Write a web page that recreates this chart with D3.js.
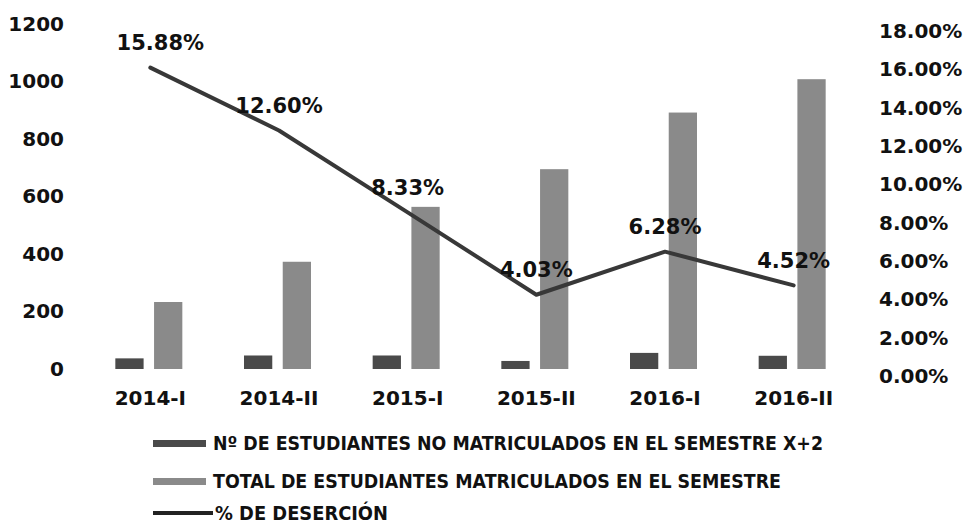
<!DOCTYPE html>
<html>
<head>
<meta charset="utf-8">
<script src="https://cdn.jsdelivr.net/npm/d3@7"></script>
<style>
  body { margin: 0; background: #fff; }
  text { font-family: "DejaVu Sans", Verdana, sans-serif; }
</style>
</head>
<body>
<svg id="chart" width="969" height="524"></svg>
<script>
// semesters
var categories = ["2014-I", "2014-II", "2015-I", "2015-II", "2016-I", "2016-II"];
// Nº de estudiantes no matriculados en el semestre X+2
var noMatriculados = [37, 47, 47, 28, 56, 46];
// total de estudiantes matriculados en el semestre
var totalMatriculados = [233, 373, 564, 695, 892, 1008];
// % de deserción
var desercion = [0.1588, 0.1260, 0.0833, 0.0403, 0.0628, 0.0452];

var leftTicks = [0, 200, 400, 600, 800, 1000, 1200];
var rightTicks = [0, 0.02, 0.04, 0.06, 0.08, 0.10, 0.12, 0.14, 0.16, 0.18];

var legendLabels = [
  "Nº DE ESTUDIANTES NO MATRICULADOS EN EL SEMESTRE X+2",
  "TOTAL DE ESTUDIANTES MATRICULADOS EN EL SEMESTRE",
  "% DE DESERCIÓN"
];

var darkColor = "#4a4a4a";
var lightColor = "#8a8a8a";
var lineColor = "#383838";

var svg = d3.select("#chart");

var x = d3.scaleBand()
  .domain(categories)
  .range([86, 858]);

var xInner = d3.scaleBand()
  .domain(["n", "t"])
  .range([-35, 32])
  .paddingInner(0.27);

var yLeft = d3.scaleLinear()
  .domain([0, 1200])
  .range([369, 24]);

var yRight = d3.scaleLinear()
  .domain([0, 0.18])
  .range([372, 27]);

var center = function(c) { return x(c) + x.bandwidth() / 2; };

function styleTicks(g) {
  g.select(".domain").remove();
  g.selectAll("text")
    .attr("font-family", "DejaVu Sans")
    .attr("font-weight", "bold")
    .attr("font-size", 20)
    .attr("fill", "#111");
}

// left axis (labels only)
svg.append("g")
  .attr("transform", "translate(64,0)")
  .call(d3.axisLeft(yLeft).tickValues(leftTicks).tickSize(0).tickPadding(0).tickFormat(d3.format("d")))
  .call(styleTicks);

// right axis (labels only)
svg.append("g")
  .attr("transform", "translate(879,4)")
  .call(d3.axisRight(yRight).tickValues(rightTicks).tickSize(0).tickPadding(0).tickFormat(d3.format(".2%")))
  .call(styleTicks);

// category labels
svg.append("g")
  .attr("transform", "translate(0,391)")
  .call(d3.axisBottom(x).tickSize(0).tickPadding(0))
  .call(styleTicks);

// bars
var groups = svg.append("g").selectAll("g")
  .data(categories)
  .enter().append("g")
    .attr("transform", function(c) { return "translate(" + center(c) + ",0)"; });

groups.append("rect")
  .attr("class", "bar-no")
  .attr("x", xInner("n"))
  .attr("width", xInner.bandwidth())
  .attr("y", function(c, i) { return yLeft(noMatriculados[i]); })
  .attr("height", function(c, i) { return yLeft(0) - yLeft(noMatriculados[i]); })
  .attr("fill", darkColor);

groups.append("rect")
  .attr("class", "bar-total")
  .attr("x", xInner("t"))
  .attr("width", xInner.bandwidth())
  .attr("y", function(c, i) { return yLeft(totalMatriculados[i]); })
  .attr("height", function(c, i) { return yLeft(0) - yLeft(totalMatriculados[i]); })
  .attr("fill", lightColor);

// line
var line = d3.line()
  .x(function(d, i) { return center(categories[i]); })
  .y(function(d) { return yRight(d); });

svg.append("path")
  .datum(desercion)
  .attr("fill", "none")
  .attr("stroke", lineColor)
  .attr("stroke-width", 4)
  .attr("stroke-linecap", "round")
  .attr("stroke-linejoin", "round")
  .attr("d", line);

// data labels
svg.append("g").selectAll("text")
  .data(desercion)
  .enter().append("text")
    .attr("x", function(d, i) { return center(categories[i]) + (i === 0 ? 10 : 0); })
    .attr("y", function(d) { return yRight(d) - 25; })
    .attr("dy", "0.35em")
    .attr("text-anchor", "middle")
    .attr("font-weight", "bold")
    .attr("font-size", 21)
    .attr("fill", "#111")
    .text(function(d) { return d3.format(".2%")(d); });

// legend
var legend = svg.append("g").attr("transform", "translate(153,0)");
var legendY = [443, 481, 513];
var legendWidths = [610, 568, 173];

legend.selectAll("rect.sw")
  .data([darkColor, lightColor])
  .enter().append("rect")
    .attr("class", "sw")
    .attr("x", 0)
    .attr("y", function(d, i) { return legendY[i] - 3; })
    .attr("width", 53)
    .attr("height", 7)
    .attr("fill", function(d) { return d; });

legend.append("line")
  .attr("x1", 0).attr("x2", 60)
  .attr("y1", legendY[2]).attr("y2", legendY[2])
  .attr("stroke", "#222")
  .attr("stroke-width", 4);

legend.selectAll("text")
  .data(legendLabels)
  .enter().append("text")
    .attr("x", function(d, i) { return i === 2 ? 62 : 60; })
    .attr("y", function(d, i) { return legendY[i]; })
    .attr("dy", "0.36em")
    .attr("font-family", "DejaVu Sans Condensed")
    .attr("font-weight", "bold")
    .attr("font-size", 19)
    .attr("fill", "#111")
    .attr("textLength", function(d, i) { return legendWidths[i]; })
    .attr("lengthAdjust", "spacingAndGlyphs")
    .text(function(d) { return d; });
</script>
</body>
</html>
